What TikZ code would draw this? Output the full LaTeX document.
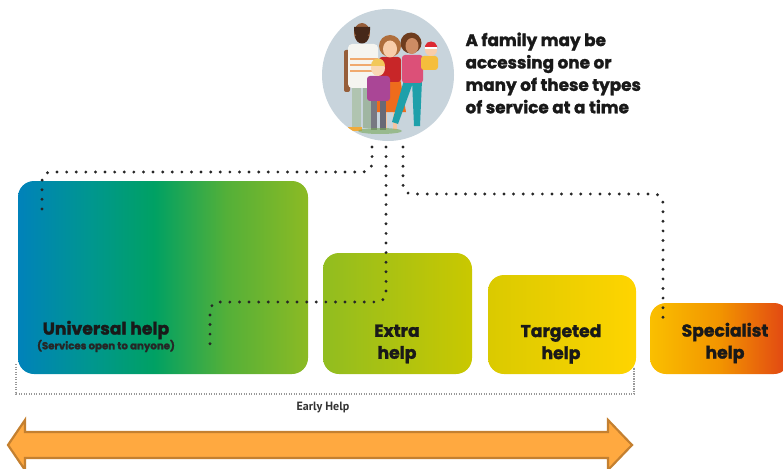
\documentclass[tikz,border=0pt]{standalone}
\usepackage{fontspec}
\setmainfont{Poppins}[BoldFeatures={FakeBold=1.6}]
\newfontfamily\labelfont{PT Sans}
% box shading colours
\definecolor{extL}{RGB}{145,189,32}
\definecolor{extR}{RGB}{202,200,0}
\definecolor{tarL}{RGB}{218,202,0}
\definecolor{tarR}{RGB}{255,212,0}
\definecolor{arrowfill}{RGB}{255,169,64}
\definecolor{arrowedge}{RGB}{196,128,48}
% multi-stop shadings; the path spans 25bp to 75bp of the shading
\pgfdeclarehorizontalshading{universal}{100bp}{
  rgb(0bp)=(0,0.51,0.73);
  rgb(25bp)=(0,0.51,0.73);
  rgb(37.5bp)=(0,0.59,0.56);
  rgb(48.5bp)=(0,0.63,0.39);
  rgb(61bp)=(0.33,0.69,0.22);
  rgb(75bp)=(0.55,0.73,0.14);
  rgb(100bp)=(0.55,0.73,0.14)}
\pgfdeclarehorizontalshading{specialist}{100bp}{
  rgb(0bp)=(0.98,0.75,0);
  rgb(25bp)=(0.98,0.75,0);
  rgb(50bp)=(0.95,0.58,0);
  rgb(75bp)=(0.88,0.26,0.08);
  rgb(100bp)=(0.88,0.26,0.08)}
% family picture colours
\definecolor{disc}{RGB}{200,212,220}
\definecolor{dadpantsA}{RGB}{176,196,176}
\definecolor{dadpantsB}{RGB}{160,182,162}
\definecolor{shoe}{RGB}{240,170,60}
\definecolor{darkskin}{RGB}{150,94,58}
\definecolor{shirt}{RGB}{245,245,240}
\definecolor{stripe}{RGB}{240,170,110}
\definecolor{darkhair}{RGB}{70,40,25}
\definecolor{lightskin}{RGB}{246,196,160}
\definecolor{skirt}{RGB}{238,108,28}
\definecolor{redtop}{RGB}{200,38,40}
\definecolor{brownhair}{RGB}{175,110,60}
\definecolor{paleskin}{RGB}{248,205,170}
\definecolor{teal}{RGB}{30,160,170}
\definecolor{pinktop}{RGB}{220,80,120}
\definecolor{hairB}{RGB}{110,60,30}
\definecolor{tanskin}{RGB}{205,140,100}
\definecolor{babyshirt}{RGB}{245,190,60}
\definecolor{babycap}{RGB}{220,40,50}
\definecolor{boypantsA}{RGB}{120,120,130}
\definecolor{boypantsB}{RGB}{105,105,118}
\definecolor{jacket}{RGB}{170,70,150}
\definecolor{boyskin}{RGB}{250,215,180}
\definecolor{blond}{RGB}{242,200,90}
\definecolor{grass}{RGB}{120,170,90}
\begin{document}
\begin{tikzpicture}[x=1pt,y=-1pt,
  helpbox/.style={rounded corners=16pt},
  title/.style={font=\bfseries\fontsize{17.2}{22}\selectfont, align=center, text=black!90},
  dots/.style={line width=3.2pt, line cap=round, dash pattern=on 0pt off 9.6pt, rounded corners=9pt, black!85},
  bracket/.style={gray!80, line width=1.3pt, dash pattern=on 1.2pt off 1.3pt},
  arrowshape/.style={fill=arrowfill, draw=arrowedge, line width=2.2pt, line join=miter}
]
\useasboundingbox (0,0) rectangle (783,468);

% service boxes
\shade[helpbox, shading=universal] (18,181) rectangle (308,374);
\shade[helpbox, left color=extL, right color=extR] (323,253) rectangle (472,374);
\shade[helpbox, left color=tarL, right color=tarR] (488,275) rectangle (636,374);
\shade[helpbox, shading=specialist] (650,303) rectangle (790,374);

\node[title] (universal) at (106,330) {Universal help};
\node[font=\bfseries\fontsize{10.2}{12}\selectfont, text=black!85] (uninote) at (106,346) {(Services open to anyone)};
\node[title] (extra) at (397,344) {Extra\\help};
\node[title] (targeted) at (561,344) {Targeted\\help};
\node[title] (specialist) at (725,343) {Specialist\\help};

% family picture
\fill[disc] (388,75) circle (66);
\node[circle, minimum size=132pt, inner sep=0pt] (family) at (388,75) {};
\begin{scope}
\clip (388,75) circle (66);
% father
\fill[dadpantsA] (352,86) rectangle (361,128);
\fill[dadpantsB] (363,86) rectangle (372,128);
\fill[shoe] (348,127) rectangle (362,131);
\fill[darkskin, rounded corners=2pt] (344,50) rectangle (350,92);
\fill[shirt, rounded corners=4pt] (348,44) rectangle (378,88);
\foreach \yy in {58,64,70} \fill[stripe] (350,\yy) rectangle (378,\yy+2.5);
\fill[darkskin] (362,33) ellipse (8 and 10);
\fill[darkhair] (354,30) arc (180:360:8 and -8) -- (370,27) -- (354,27) -- cycle;
\fill[darkhair] (355,36) .. controls (356,46) and (368,46) .. (369,36) -- cycle;
% first mother
\fill[lightskin] (383,108) rectangle (387,130);
\fill[lightskin] (393,108) rectangle (397,130);
\fill[skirt] (380,78) -- (400,78) -- (406,112) -- (376,112) -- cycle;
\fill[redtop, rounded corners=3pt] (379,57) rectangle (401,82);
\fill[brownhair] (390,46) circle (11);
\fill[paleskin] (390,49) ellipse (7 and 8.5);
% second mother
\fill[teal] (404,80) -- (414,80) -- (398,124) -- (392,122) -- cycle;
\fill[teal] (412,80) -- (422,80) -- (420,126) -- (414,126) -- cycle;
\fill[pinktop, rounded corners=3pt] (402,55) rectangle (423,83);
\fill[hairB] (411,43) circle (10.5);
\fill[tanskin] (412,46) ellipse (6.5 and 8);
% baby
\fill[babyshirt, rounded corners=3pt] (421,56) rectangle (438,70);
\fill[paleskin] (431,50) circle (6);
\fill[babycap] (425,48) -- (425,46) .. controls (426,40) and (436,40) .. (437,46) -- (437,48) -- cycle;
\fill[white] (425,47) rectangle (437,49);
% boy
\fill[boypantsA] (371,98) rectangle (377,130);
\fill[boypantsB] (380,98) rectangle (386,130);
\fill[jacket, rounded corners=3pt] (367,76) rectangle (390,101);
\fill[boyskin] (378,68) ellipse (7 and 8);
\fill[blond] (371,66) .. controls (371,56) and (385,56) .. (385,66) -- cycle;
% ground shadow
\fill[grass, opacity=.6] (380,131) ellipse (22 and 3);
\end{scope}

\node[font=\bfseries\fontsize{16.8}{22.4}\selectfont, align=left, anchor=west, text=black!90] (caption) at (462,73)
  {A family may be\\accessing one or\\many of these types\\of service at a time};

% dotted connectors from the family to the services
\coordinate (c1) at (372,147);
\coordinate (c2) at (386,147);
\coordinate (c3) at (403,147);
\coordinate (u1) at (42,216);
\coordinate (u2) at (210,347);
\coordinate (s1) at (663,325);
\draw[dots] (c1) -- (372,172) -- (42,172) -- (u1);
\draw[dots] (c2) -- (386,302) -- (210,302) -- (u2);
\draw[dots] (c3) -- (403,194) -- (663,194) -- (s1);

% early help bracket
\coordinate (b1) at (16,364);
\coordinate (b2) at (634,367);
\draw[bracket] (b1) -- (16,394) -- (634,394) -- (b2);
\node[font=\labelfont\bfseries\fontsize{12}{14}\selectfont, text=black!80] (early) at (323,408) {Early Help};

% two-headed arrow
\draw[arrowshape] (8,445) -- (25,420) -- (25,432) -- (608,432) -- (608,420) -- (632,445)
  -- (608,470) -- (608,458) -- (25,458) -- (25,470) -- cycle;
\end{tikzpicture}
\end{document}
